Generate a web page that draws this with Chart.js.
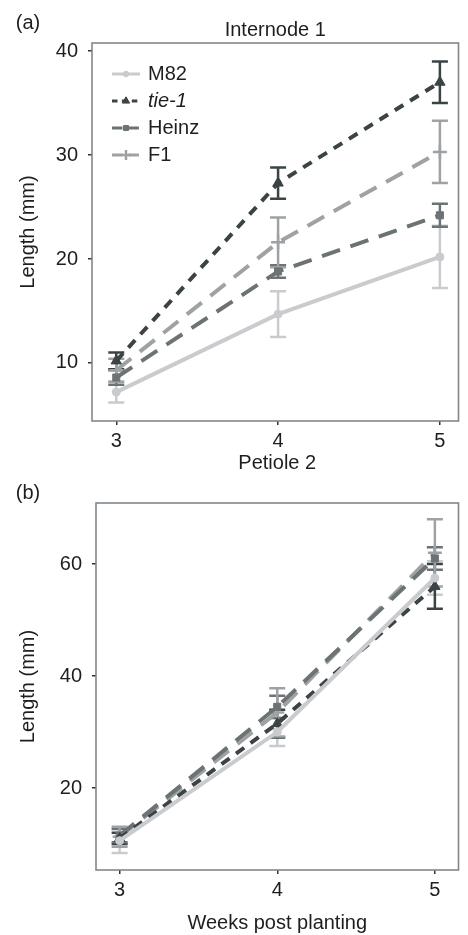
<!DOCTYPE html>
<html><head><meta charset="utf-8">
<script src="https://cdn.jsdelivr.net/npm/chart.js@4.4.1/dist/chart.umd.min.js"></script>
<style>
html,body{margin:0;padding:0;background:#fff;width:468px;height:935px;overflow:hidden}
.wrap{position:absolute;left:0;width:468px}
</style></head><body>
<div class="wrap" style="top:0;height:460px"><canvas id="ca"></canvas></div>
<div class="wrap" style="top:445px;height:490px"><canvas id="cb"></canvas></div>
<script>
// ---- data ----
const weeks = [3, 4, 5];
const seriesNames = ['M82', 'tie-1', 'Heinz', 'F1'];
const xTicks = [3, 4, 5];
const yTicksA = [10, 20, 30, 40];
const yTicksB = [20, 40, 60];

// Internode 1 (mean, error half-width)
const intM82 = [7.2, 14.7, 20.2];   const intM82Err = [1.0, 2.2, 3.0];
const intTie1 = [10.2, 27.3, 37.0]; const intTie1Err = [0.8, 1.5, 2.0];
const intHeinz = [8.6, 18.8, 24.2]; const intHeinzErr = [0.7, 0.6, 1.1];
const intF1 = [9.3, 21.6, 30.3];    const intF1Err = [1.1, 2.4, 3.0];

// Petiole 2 (mean, error half-width)
const petM82 = [10.6, 30.0, 57.5];  const petM82Err = [2.2, 2.5, 3.0];
const petTie1 = [11.0, 31.5, 56.0]; const petTie1Err = [1.0, 2.5, 4.0];
const petHeinz = [11.5, 34.5, 61.0];const petHeinzErr = [1.2, 2.0, 2.0];
const petF1 = [11.3, 33.5, 62.0];   const petF1Err = [1.8, 4.3, 6.0];

// ---- styles ----
const styles = [
  {color: '#c9cbce', dash: [], pointStyle: 'circle', radius: 4, italic: false},
  {color: '#3b4345', dash: [10, 8], pointStyle: 'triangle', radius: 6, italic: true},
  {color: '#6c7375', dash: [19, 11], pointStyle: 'rect', radius: 5, italic: false},
  {color: '#9ea2a5', dash: [19, 11], pointStyle: 'cross', radius: 7, italic: false}
];
const FONT = '"Liberation Sans", Arial, Helvetica, sans-serif';
const TEXT = '#1e1e1e';

function makeDatasets(means, errs) {
  return means.map((m, i) => ({
    label: seriesNames[i],
    data: weeks.map((w, j) => ({x: w, y: m[j]})),
    errs: errs[i],
    borderColor: styles[i].color,
    backgroundColor: styles[i].color,
    borderWidth: 4,
    borderDash: styles[i].dash,
    pointStyle: styles[i].pointStyle,
    pointRadius: styles[i].radius,
    pointBorderWidth: styles[i].pointStyle === 'cross' ? 2.5 : 1,
    pointBorderColor: styles[i].color,
    pointBackgroundColor: styles[i].color,
    tension: 0,
    fill: false
  }));
}

const panelPlugin = {
  id: 'panelPlugin',
  beforeDatasetsDraw(chart) {
    const ctx = chart.ctx, xs = chart.scales.x, ys = chart.scales.y;
    ctx.save();
    chart.data.datasets.forEach(ds => {
      ctx.strokeStyle = ds.borderColor;
      ctx.lineWidth = 2.5;
      ctx.setLineDash([]);
      ds.data.forEach((p, j) => {
        const px = xs.getPixelForValue(p.x);
        const lo = ys.getPixelForValue(p.y - ds.errs[j]);
        const hi = ys.getPixelForValue(p.y + ds.errs[j]);
        const w = 8;
        ctx.beginPath();
        ctx.moveTo(px, lo); ctx.lineTo(px, hi);
        ctx.moveTo(px - w, lo); ctx.lineTo(px + w, lo);
        ctx.moveTo(px - w, hi); ctx.lineTo(px + w, hi);
        ctx.stroke();
      });
    });
    ctx.restore();
  },
  afterDraw(chart, args, opts) {
    const ctx = chart.ctx, a = chart.chartArea;
    ctx.save();
    ctx.strokeStyle = '#80878c';
    ctx.lineWidth = 1.6;
    ctx.strokeRect(a.left, a.top, a.right - a.left, a.bottom - a.top);
    ctx.fillStyle = TEXT;
    ctx.font = '20px ' + FONT;
    ctx.textAlign = 'center';
    ctx.textBaseline = 'middle';
    ctx.fillText(opts.tag, 28, opts.tagY);
    ctx.fillText(opts.title, (a.left + a.right) / 2, opts.titleY);
    if (opts.legend) {
      chart.data.datasets.forEach((ds, i) => {
        const y = opts.legendY + i * opts.legendStep;
        ctx.strokeStyle = ds.borderColor;
        ctx.fillStyle = ds.borderColor;
        ctx.lineWidth = 3;
        ctx.setLineDash(ds.borderDash.map(v => v * 0.55));
        ctx.beginPath();
        ctx.moveTo(112, y); ctx.lineTo(140, y);
        ctx.stroke();
        ctx.setLineDash([]);
        ctx.lineWidth = ds.pointBorderWidth;
        Chart.helpers.drawPoint(ctx, {pointStyle: ds.pointStyle, radius: ds.pointRadius * 0.7, borderWidth: ds.pointBorderWidth, rotation: 0}, 126, y);
        ctx.fillStyle = TEXT;
        ctx.textAlign = 'left';
        ctx.font = (styles[i].italic ? 'italic ' : '') + '20px ' + FONT;
        ctx.fillText(ds.label, 148, y);
      });
    }
    ctx.restore();
  }
};

function makePanel(id, datasets, o) {
  return new Chart(document.getElementById(id), {
    type: 'line',
    data: {datasets},
    plugins: [panelPlugin],
    options: {
      responsive: true,
      maintainAspectRatio: false,
      animation: false,
      layout: {padding: {top: o.padTop, right: 5, left: 0, bottom: 0}},
      plugins: {
        legend: {display: false},
        tooltip: {enabled: false},
        title: {display: false},
        panelPlugin: o.plugin
      },
      scales: {
        x: {
          type: 'linear', min: o.xMin, max: o.xMax,
          afterBuildTicks: s => { s.ticks = xTicks.map(v => ({value: v})); },
          afterFit: s => { s.height = o.xAxisH; },
          grid: {drawOnChartArea: false, drawTicks: true, tickLength: 4, color: '#333', lineWidth: 1.5},
          border: {display: false},
          ticks: {color: TEXT, font: {family: FONT, size: 20}, padding: 4, maxRotation: 0},
          title: {display: !!o.xTitle, text: o.xTitle || '', color: TEXT, font: {family: FONT, size: 20}, padding: {top: 0, bottom: 0}}
        },
        y: {
          type: 'linear', min: o.yMin, max: o.yMax,
          afterBuildTicks: s => { s.ticks = o.yTicks.map(v => ({value: v})); },
          afterFit: s => { s.width = o.yAxisW; },
          grid: {drawOnChartArea: false, drawTicks: true, tickLength: 4, color: '#333', lineWidth: 1.5},
          border: {display: false},
          ticks: {color: TEXT, font: {family: FONT, size: 20}, padding: 10},
          title: {display: true, text: 'Length (mm)', color: TEXT, font: {family: FONT, size: 20}, padding: {top: 16, bottom: 0}}
        }
      }
    }
  });
}

makePanel('ca',
  makeDatasets([intM82, intTie1, intHeinz, intF1], [intM82Err, intTie1Err, intHeinzErr, intF1Err]),
  {padTop: 43, xMin: 2.85, xMax: 5.115, yMin: 4.42, yMax: 40.77, yTicks: yTicksA, yAxisW: 92, xAxisH: 39,
   plugin: {tag: '(a)', tagY: 23, title: 'Internode 1', titleY: 30, legend: true, legendY: 74, legendStep: 27}});

makePanel('cb',
  makeDatasets([petM82, petTie1, petHeinz, petF1], [petM82Err, petTie1Err, petHeinzErr, petF1Err]),
  {padTop: 58, xMin: 2.85, xMax: 5.15, yMin: 5.36, yMax: 70.9, yTicks: yTicksB, yAxisW: 96, xAxisH: 65,
   xTitle: 'Weeks post planting',
   plugin: {tag: '(b)', tagY: 48, title: 'Petiole 2', titleY: 18, legend: false}});
</script>
</body></html>
